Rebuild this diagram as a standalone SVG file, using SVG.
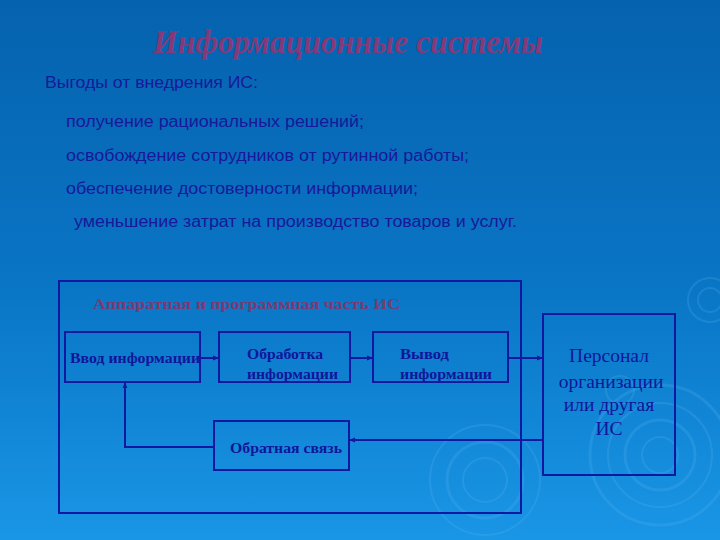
<svg xmlns="http://www.w3.org/2000/svg" width="720" height="540" viewBox="0 0 720 540">
<defs>
<linearGradient id="bg" x1="0" y1="0" x2="0" y2="1">
<stop offset="0" stop-color="#0562ae"/>
<stop offset="0.55" stop-color="#0a76c6"/>
<stop offset="1" stop-color="#1a96e6"/>
</linearGradient>
<marker id="ah" viewBox="0 0 10 10" refX="10" refY="5" markerWidth="6" markerHeight="6" orient="auto" markerUnits="userSpaceOnUse">
<path d="M0,1 L10,5 L0,9 z" fill="#1418a0"/>
</marker>
<style>
.box{fill:none;stroke:#1418a0;stroke-width:2}
.con{fill:none;stroke:#1418a0;stroke-width:2}
.ring{fill:none;stroke:#5ab4f0;stroke-opacity:0.22}
.txt{font-family:"Liberation Sans",Arial,sans-serif;font-size:16px;fill:#18189a}
.lbl{font-family:"Liberation Serif","Times New Roman",serif;font-weight:bold;font-size:14.5px;fill:#10169a}
.pers{font-family:"Liberation Serif","Times New Roman",serif;font-size:19.5px;fill:#10169a;text-anchor:middle}
</style>
</defs>
<rect width="720" height="540" fill="url(#bg)"/>
<g id="decor">
<circle class="ring" cx="660" cy="455" r="70" stroke-width="3"/>
<circle class="ring" cx="660" cy="455" r="52" stroke-width="2"/>
<circle class="ring" cx="660" cy="455" r="35" stroke-width="3"/>
<circle class="ring" cx="660" cy="455" r="18" stroke-width="2"/>
<circle class="ring" cx="485" cy="480" r="55" stroke-width="2"/>
<circle class="ring" cx="485" cy="480" r="38" stroke-width="3"/>
<circle class="ring" cx="485" cy="480" r="22" stroke-width="2"/>
<circle class="ring" cx="710" cy="300" r="22" stroke-width="2"/>
<circle class="ring" cx="710" cy="300" r="12" stroke-width="2"/>
<circle class="ring" cx="620" cy="390" r="14" stroke-width="2"/>
</g>
<text x="153" y="53" font-family="Liberation Serif,'Times New Roman',serif" font-style="italic" font-weight="bold" font-size="33" fill="#843a78" textLength="390" lengthAdjust="spacingAndGlyphs">Информационные системы</text>
<text class="txt" x="45" y="88" textLength="213" lengthAdjust="spacingAndGlyphs">Выгоды от внедрения ИС:</text>
<text class="txt" x="66" y="127" textLength="298" lengthAdjust="spacingAndGlyphs">получение рациональных решений;</text>
<text class="txt" x="66" y="161" textLength="403" lengthAdjust="spacingAndGlyphs">освобождение сотрудников от рутинной работы;</text>
<text class="txt" x="66" y="194" textLength="352" lengthAdjust="spacingAndGlyphs">обеспечение достоверности информации;</text>
<text class="txt" x="74" y="227" textLength="443" lengthAdjust="spacingAndGlyphs">уменьшение затрат на производство товаров и услуг.</text>
<g id="hw">
<rect class="box" x="59" y="281" width="462" height="232"/>
<text x="93" y="309" font-family="Liberation Serif,'Times New Roman',serif" font-weight="bold" font-size="14" fill="#7a3a72" textLength="307" lengthAdjust="spacingAndGlyphs">Аппаратная и программная часть ИС</text>
</g>
<g id="input">
<rect class="box" x="65" y="332" width="135" height="50"/>
<text class="lbl" x="70" y="363" textLength="130" lengthAdjust="spacingAndGlyphs">Ввод информации</text>
</g>
<g id="process">
<rect class="box" x="219" y="332" width="131" height="50"/>
<text class="lbl" x="247" y="359" textLength="76" lengthAdjust="spacingAndGlyphs">Обработка</text>
<text class="lbl" x="247" y="379" textLength="91" lengthAdjust="spacingAndGlyphs">информации</text>
</g>
<g id="output">
<rect class="box" x="373" y="332" width="135" height="50"/>
<text class="lbl" x="400" y="359" textLength="49" lengthAdjust="spacingAndGlyphs">Вывод</text>
<text class="lbl" x="400" y="379" textLength="92" lengthAdjust="spacingAndGlyphs">информации</text>
</g>
<g id="feedback">
<rect class="box" x="214" y="421" width="135" height="49"/>
<text class="lbl" x="230" y="453" textLength="112" lengthAdjust="spacingAndGlyphs">Обратная связь</text>
</g>
<g id="personnel">
<rect class="box" x="543" y="314" width="132" height="161"/>
<text class="pers" x="609" y="362">Персонал</text>
<text class="pers" x="611" y="388">организации</text>
<text class="pers" x="609" y="411">или другая</text>
<text class="pers" x="609" y="435">ИС</text>
</g>
<g id="connectors">
<line class="con" x1="200" y1="358" x2="219" y2="358" marker-end="url(#ah)"/>
<line class="con" x1="350" y1="358" x2="373" y2="358" marker-end="url(#ah)"/>
<line class="con" x1="508" y1="358" x2="543" y2="358" marker-end="url(#ah)"/>
<line class="con" x1="543" y1="440" x2="349" y2="440" marker-end="url(#ah)"/>
<polyline class="con" points="214,447 125,447 125,382" marker-end="url(#ah)"/>
</g>
</svg>
